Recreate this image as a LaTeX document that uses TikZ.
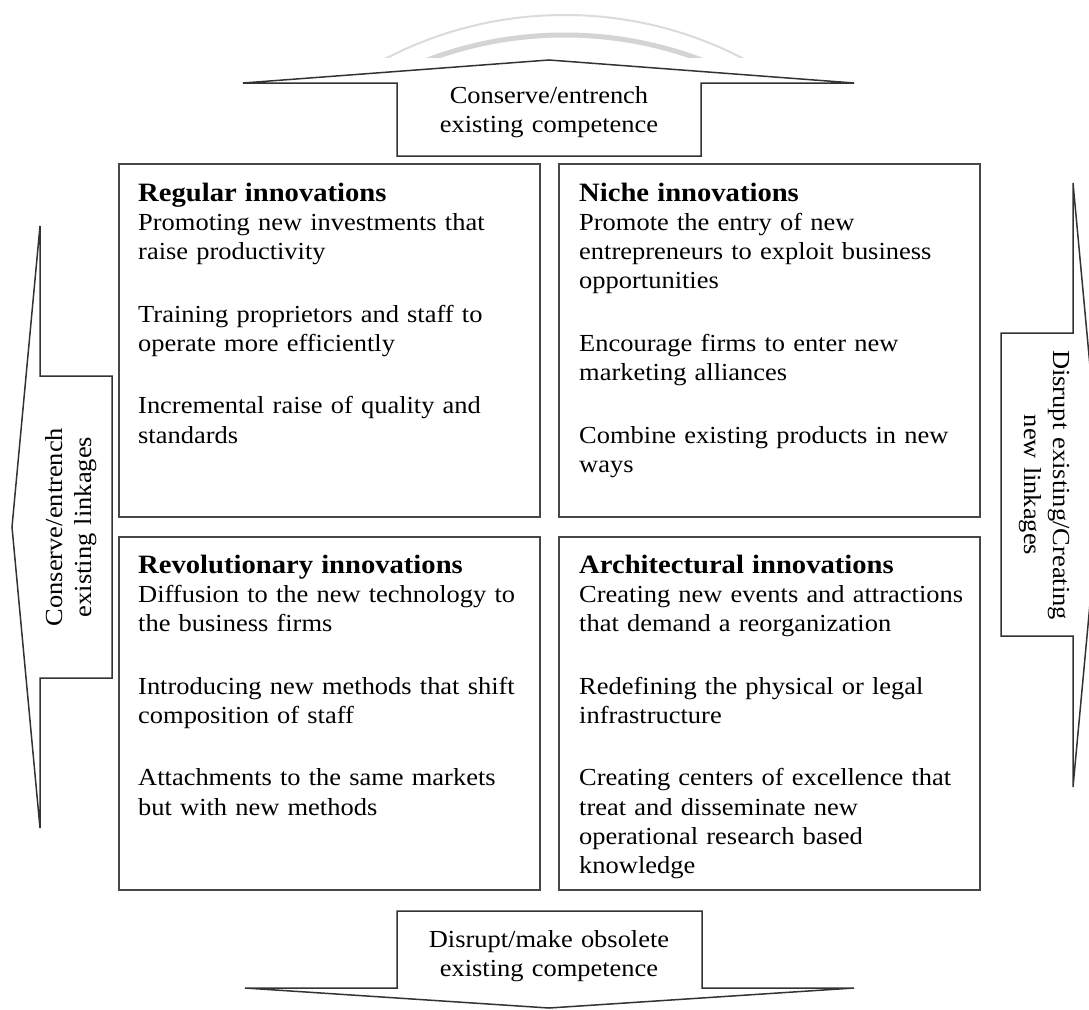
\documentclass[tikz,border=0pt]{standalone}
\usepackage{fontspec}
\setmainfont{Liberation Serif}[FakeStretch=1.08]
\newcommand\cellhead{\fontsize{26.5}{29.3}\selectfont\bfseries}
\begin{document}
\begin{tikzpicture}[x=1pt,y=-1pt,
  cellbox/.style={draw=black!72, line width=2pt},
  arrowshape/.style={draw=black!80, line width=1.5pt, line join=miter, fill=white},
  celltext/.style={anchor=base west, text width=420pt, align=left, inner sep=0pt,
    font=\fontsize{24.5}{29.3}\selectfont},
  arrowtext/.style={anchor=base, text width=330pt, align=center, inner sep=0pt,
    font=\fontsize{24.5}{29}\selectfont},
]
% canvas
\fill[white] (0,0) rectangle (1089,1009);
\useasboundingbox (0,0) rectangle (1089,1009);
\clip (0,0) rectangle (1089,1009);

% faint arcs above the top arrow
\begin{scope}
  \clip (0,0) rectangle (1089,57);
  \draw[draw=black!14, line width=2pt] (564.5,402.7) circle[radius=387.7pt];
  \draw[draw=black!17, line width=5pt] (564.5,421.3) circle[radius=386.3pt];
\end{scope}

% four quadrant boxes
\draw[cellbox] (119,164) rectangle (540,517);
\draw[cellbox] (559,164) rectangle (980,517);
\draw[cellbox] (119,537) rectangle (540,890);
\draw[cellbox] (559,537) rectangle (980,890);

% quadrant texts
\node[celltext] (regular) at (138,201) {{\cellhead Regular innovations}\\
  Promoting new investments that\\ raise productivity\\[33.2pt]
  Training proprietors and staff to\\ operate more efficiently\\[33.2pt]
  Incremental raise of quality and\\ standards};
\node[celltext] (niche) at (579,201) {{\cellhead Niche innovations}\\
  Promote the entry of new\\ entrepreneurs to exploit business\\ opportunities\\[33.2pt]
  Encourage firms to enter new\\ marketing alliances\\[33.2pt]
  Combine existing products in new\\ ways};
\node[celltext] (revolutionary) at (138,573) {{\cellhead Revolutionary innovations}\\
  Diffusion to the new technology to\\ the business firms\\[33.2pt]
  Introducing new methods that shift\\ composition of staff\\[33.2pt]
  Attachments to the same markets\\ but with new methods};
\node[celltext] (architectural) at (579,573) {{\cellhead Architectural innovations}\\
  Creating new events and attractions\\ that demand a reorganization\\[33.2pt]
  Redefining the physical or legal\\ infrastructure\\[33.2pt]
  Creating centers of excellence that\\ treat and disseminate new\\
  operational research based\\ knowledge};

% block arrows
\draw[arrowshape] (243,83) -- (397,83) -- (397,156) -- (701,156) -- (701,83)
  -- (854,83) -- (549,60) -- cycle;
\draw[arrowshape] (245,988) -- (397,988) -- (397,911) -- (702,911) -- (702,988)
  -- (854,988) -- (549,1008) -- cycle;
\draw[arrowshape] (40,226) -- (40,376) -- (112,376) -- (112,678) -- (40,678)
  -- (40,828) -- (12,527) -- cycle;
\draw[arrowshape] (1073,183) -- (1073,333) -- (1001,333) -- (1001,636) -- (1073,636)
  -- (1073,787) -- (1101,485) -- cycle;

% arrow labels
\node[arrowtext] (conscomp) at (549,103) {Conserve/entrench\\ existing competence};
\node[arrowtext] (disrcomp) at (549,947) {Disrupt/make obsolete\\ existing competence};
\node[arrowtext, rotate=90] (conslink) at (62,527) {Conserve/entrench\\ existing linkages};
\node[arrowtext, rotate=-90] (disrlink) at (1053,485) {Disrupt existing/Creating\\ new linkages};
\end{tikzpicture}
\end{document}
